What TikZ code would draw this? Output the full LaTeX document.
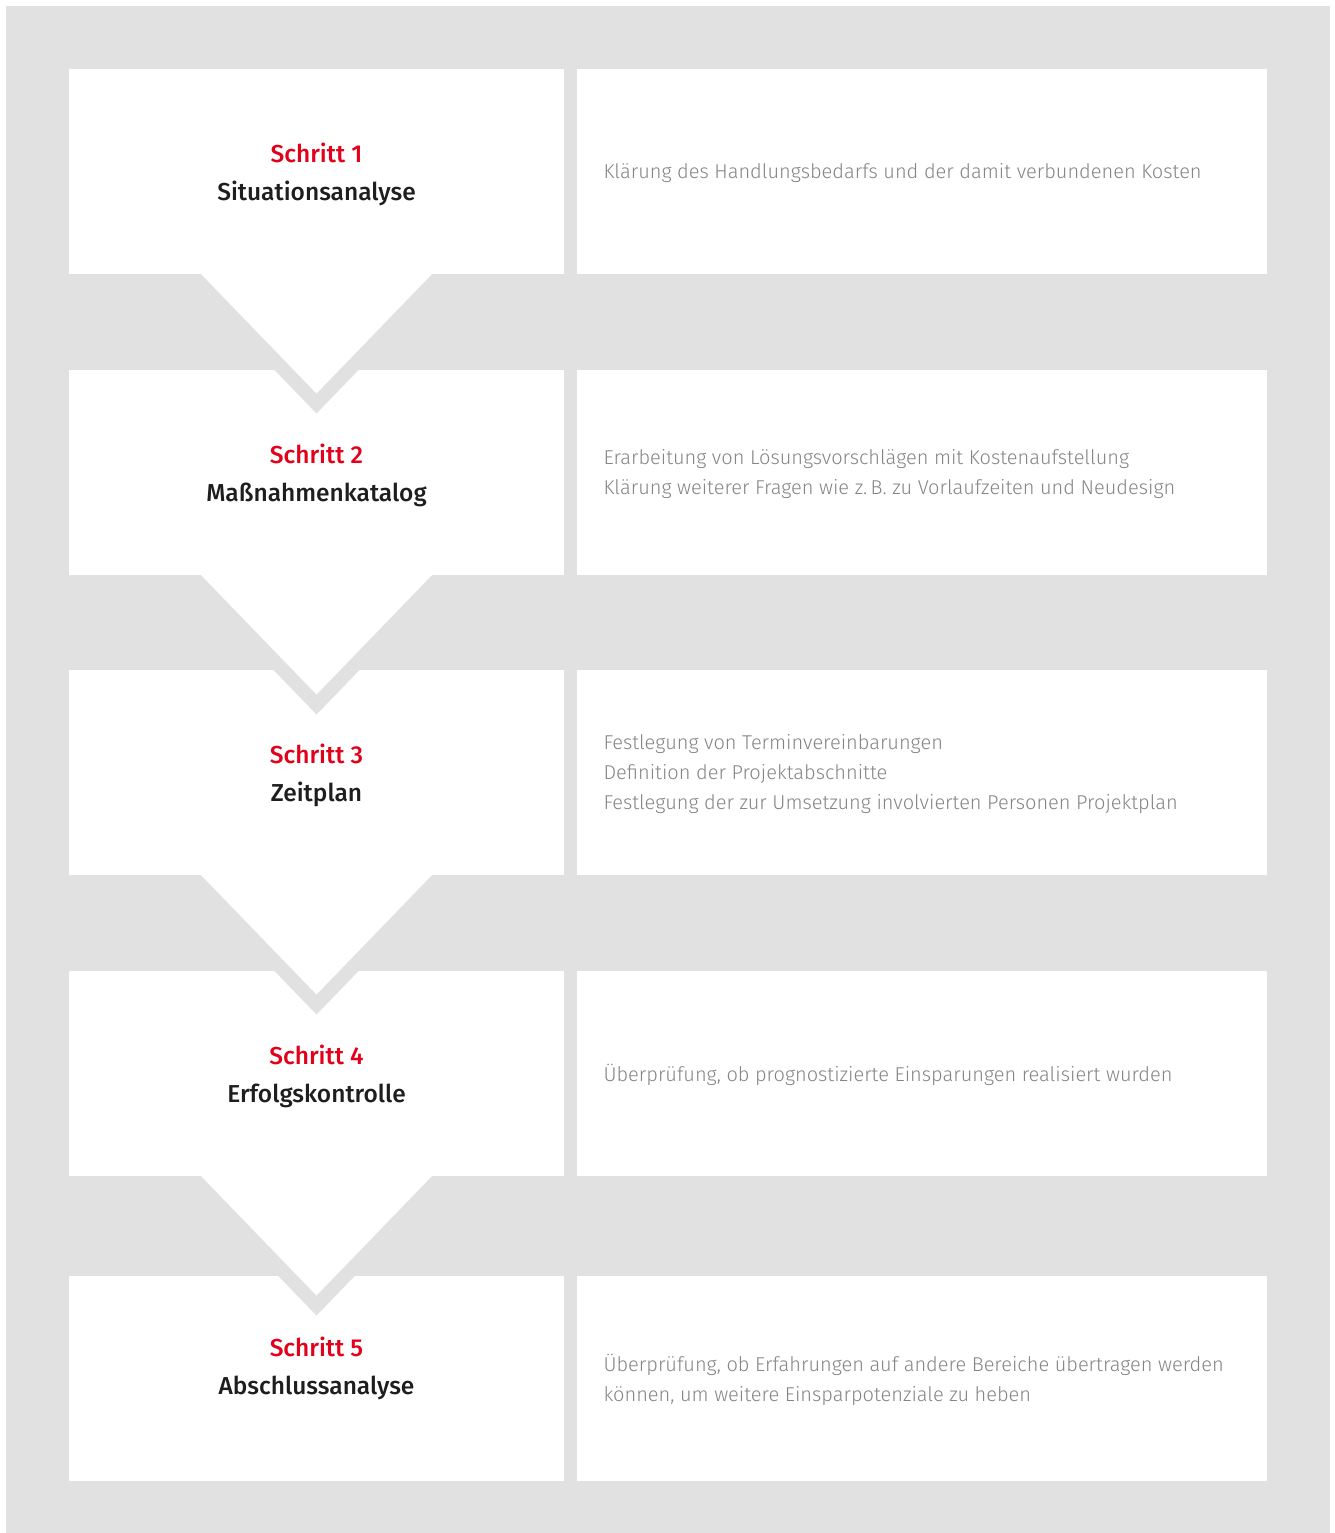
\documentclass[tikz,border=0pt]{standalone}
\usepackage{fontspec}
\setmainfont{Fira Sans}
\newfontfamily\lightfont{Fira Sans Light}
\newfontfamily\headfont{Fira Sans Medium}
\usepackage{xcolor}
\usetikzlibrary{positioning}

\definecolor{bggray}{HTML}{E1E1E1}
\definecolor{stepred}{HTML}{E2001A}
\definecolor{txtgray}{HTML}{858585}
\definecolor{headblack}{HTML}{1E1E1E}

\begin{document}
\begin{tikzpicture}[x=1pt, y=-1pt,
		stepbox/.style={rectangle, fill=white, minimum width=495pt,
				minimum height=204.5pt, inner sep=0pt, outer sep=0pt},
		infobox/.style={rectangle, fill=white, minimum width=690pt,
				minimum height=204.5pt, inner sep=0pt, outer sep=0pt},
		title/.style={align=center, yshift=-3pt, font=\headfont\fontsize{24.5}{38}\selectfont},
		info/.style={anchor=west, align=left, text=txtgray, yshift=-2pt,
				font=\lightfont\fontsize{20}{30}\selectfont},
		gap/.style={fill=bggray},
		tip/.style={fill=white}
	]
	% background
	\useasboundingbox (0,0) rectangle (1335,1533);
	\fill[bggray] (6,6) rectangle (1330,1533);

	% left column
	\node[stepbox, anchor=north west] (s1) at (69,69) {};
	\node[stepbox, below=96.5pt of s1] (s2) {};
	\node[stepbox, below=95.5pt of s2] (s3) {};
	\node[stepbox, below=96.5pt of s3] (s4) {};
	\node[stepbox, below=100.5pt of s4] (s5) {};

	% right column
	\node[infobox, right=13pt of s1] (d1) {};
	\node[infobox, right=13pt of s2] (d2) {};
	\node[infobox, right=13pt of s3] (d3) {};
	\node[infobox, right=13pt of s4] (d4) {};
	\node[infobox, right=13pt of s5] (d5) {};

	% arrows
	\fill[gap] ([xshift=-116pt, yshift=-20pt]s1.south) -- ([yshift=-140pt]s1.south) -- ([xshift=116pt, yshift=-20pt]s1.south) -- cycle;
	\fill[tip] ([xshift=-116pt]s1.south) -- ([yshift=-120pt]s1.south) -- ([xshift=116pt]s1.south) -- cycle;
	\fill[gap] ([xshift=-116pt, yshift=-20pt]s2.south) -- ([yshift=-140pt]s2.south) -- ([xshift=116pt, yshift=-20pt]s2.south) -- cycle;
	\fill[tip] ([xshift=-116pt]s2.south) -- ([yshift=-120pt]s2.south) -- ([xshift=116pt]s2.south) -- cycle;
	\fill[gap] ([xshift=-116pt, yshift=-20pt]s3.south) -- ([yshift=-140pt]s3.south) -- ([xshift=116pt, yshift=-20pt]s3.south) -- cycle;
	\fill[tip] ([xshift=-116pt]s3.south) -- ([yshift=-120pt]s3.south) -- ([xshift=116pt]s3.south) -- cycle;
	\fill[gap] ([xshift=-116pt, yshift=-20pt]s4.south) -- ([yshift=-140pt]s4.south) -- ([xshift=116pt, yshift=-20pt]s4.south) -- cycle;
	\fill[tip] ([xshift=-116pt]s4.south) -- ([yshift=-120pt]s4.south) -- ([xshift=116pt]s4.south) -- cycle;

	% step titles
	\node[title] (t1) at (s1) {\textcolor{stepred}{Schritt 1}\\\textcolor{headblack}{Situationsanalyse}};
	\node[title] (t2) at (s2) {\textcolor{stepred}{Schritt 2}\\\textcolor{headblack}{Maßnahmenkatalog}};
	\node[title] (t3) at (s3) {\textcolor{stepred}{Schritt 3}\\\textcolor{headblack}{Zeitplan}};
	\node[title] (t4) at (s4) {\textcolor{stepred}{Schritt 4}\\\textcolor{headblack}{Erfolgskontrolle}};
	\node[title, yshift=13pt] (t5) at (s5) {\textcolor{stepred}{Schritt 5}\\\textcolor{headblack}{Abschlussanalyse}};

	% descriptions
	\node[info] (i1) at ([xshift=23pt]d1.west) {Klärung des Handlungsbedarfs und der damit verbundenen Kosten};
	\node[info] (i2) at ([xshift=23pt]d2.west) {Erarbeitung von Lösungsvorschlägen mit Kostenaufstellung\\Klärung weiterer Fragen wie z.\,B. zu Vorlaufzeiten und Neudesign};
	\node[info] (i3) at ([xshift=23pt]d3.west) {Festlegung von Terminvereinbarungen\\Definition der Projektabschnitte\\Festlegung der zur Umsetzung involvierten Personen Projektplan};
	\node[info] (i4) at ([xshift=23pt]d4.west) {Überprüfung, ob prognostizierte Einsparungen realisiert wurden};
	\node[info] (i5) at ([xshift=23pt]d5.west) {Überprüfung, ob Erfahrungen auf andere Bereiche übertragen werden\\können, um weitere Einsparpotenziale zu heben};
\end{tikzpicture}
\end{document}
